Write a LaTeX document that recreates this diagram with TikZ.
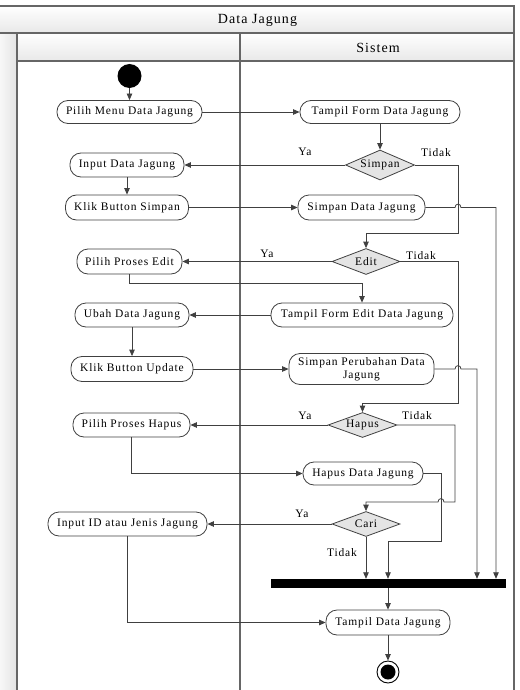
\documentclass[tikz,border=0pt]{standalone}
\usepackage{fontspec}
\setmainfont{Liberation Serif}[LetterSpace=7.5]
\usetikzlibrary{arrows.meta,shapes.geometric}
\definecolor{ln}{HTML}{404040}
\definecolor{fr}{HTML}{666666}
\definecolor{dfill}{HTML}{E4E4E4}
\begin{document}
\begin{tikzpicture}[x=1pt,y=-1pt,
  >={Triangle[length=6.5pt,width=5.5pt]},
  txt/.style={font=\fontsize{11.5}{12.5}\selectfont, text=black},
  act/.style={txt, draw=ln, line width=0.8pt, fill=white, rounded corners=11pt, inner sep=1pt, align=center},
  dec/.style={txt, diamond, aspect=2.6, draw=ln, line width=0.8pt, fill=dfill, inner sep=0pt, minimum width=69pt},
  conn/.style={draw=ln, line width=0.8pt, ->},
  frm/.style={draw=fr, line width=1.1pt},
  lbl/.style={txt}
]
\useasboundingbox (0,0) rectangle (519,690);
% swimlane frame
\shade[top color=white, bottom color=black!9] (0,6) rectangle (514,33);
\shade[left color=black!3, right color=black!11] (0,33) rectangle (17,690);
\shade[top color=white, bottom color=black!9] (17,33) rectangle (514,61);
\draw[frm] (0,6) -- (514,6) -- (514,690);
\draw[frm] (0,33) -- (514,33);
\draw[frm] (17,61) -- (514,61);
\draw[frm] (17,33) -- (17,690);
\draw[frm] (240,33) -- (240,690);
\node[font=\fontsize{14}{15}\selectfont] (title) at (257.5,20) {Data Jagung};
\node[font=\fontsize{14}{15}\selectfont] (lane) at (378,47.5) {Sistem};

% nodes
\node[circle, fill=black, minimum size=24pt, inner sep=0pt] (start) at (129.5,76) {};
\node[act, minimum width=145pt, minimum height=23pt] (pm) at (129.5,112) {Pilih Menu Data Jagung};
\node[act, minimum width=160pt, minimum height=23pt] (tf) at (380,112) {Tampil Form Data Jagung};
\node[dec, minimum height=30pt] (simpan) at (380,165) {Simpan};
\node[act, minimum width=114pt, minimum height=24pt] (idj) at (127,165) {Input Data Jagung};
\node[act, minimum width=123pt, minimum height=25pt] (kbs) at (127,207.5) {Klik Button Simpan};
\node[act, minimum width=127pt, minimum height=25pt] (sdj) at (361.5,207.5) {Simpan Data Jagung};
\node[dec, minimum height=26pt, minimum width=68pt] (edit) at (366,261.5) {Edit};
\node[act, minimum width=105pt, minimum height=25pt] (ppe) at (129.5,261.5) {Pilih Proses Edit};
\node[act, minimum width=182pt, minimum height=24pt] (tfe) at (362,315) {Tampil Form Edit Data Jagung};
\node[act, minimum width=114pt, minimum height=24pt] (udj) at (132,315) {Ubah Data Jagung};
\node[act, minimum width=122pt, minimum height=25pt] (kbu) at (132,369) {Klik Button Update};
\node[act, minimum width=145pt, minimum height=31pt] (spdj) at (361.5,369) {Simpan Perubahan Data\\Jagung};
\node[dec, minimum height=25pt] (hapus) at (362.5,425) {Hapus};
\node[act, minimum width=117pt, minimum height=24pt] (pph) at (131.5,425) {Pilih Proses Hapus};
\node[act, minimum width=120pt, minimum height=23pt] (hdj) at (363,473.5) {Hapus Data Jagung};
\node[dec, minimum height=25pt, minimum width=68pt] (cari) at (366,524) {Cari};
\node[act, minimum width=159pt, minimum height=24pt] (iid) at (127.5,524) {Input ID atau Jenis Jagung};
\node[fill=black, minimum width=235pt, minimum height=9pt, inner sep=0pt] (bar) at (388.5,583.5) {};
\node[act, minimum width=124pt, minimum height=25pt] (tdj) at (388,622.5) {Tampil Data Jagung};
\node[circle, draw=black, line width=0.9pt, fill=white, minimum size=22pt, inner sep=0pt] (end) at (388,672) {};
\fill[black] (end.center) circle[radius=7.5pt];

% labels
\node[lbl] (ya1) at (305,152) {Ya};
\node[lbl] (td1) at (436,153) {Tidak};
\node[lbl] (ya2) at (267,254) {Ya};
\node[lbl] (td2) at (421,256) {Tidak};
\node[lbl] (ya3) at (305,416) {Ya};
\node[lbl] (td3) at (417,416) {Tidak};
\node[lbl] (ya4) at (302,514) {Ya};
\node[lbl] (td4) at (342,553) {Tidak};

% bend coordinates
\coordinate (c1) at (458,233);
\coordinate (c2) at (458,403);
\coordinate (c3) at (455,502);
\coordinate (c4) at (496,0);
\coordinate (c5) at (477,0);
\coordinate (c6) at (441,541);
\coordinate (c7) at (388,541);

% connectors
\draw[conn] (start) -- (pm.north);
\draw[conn] (pm.east) -- (tf.west);
\draw[conn] (tf.south) -- (simpan.north);
\draw[conn] (simpan.west) -- (idj.east);
\draw[conn] (idj.south) -- (kbs.north);
\draw[conn] (kbs.east) -- (sdj.west);
\draw[conn] (simpan.east) -| (c1) -| (edit.north);
\draw[conn] (sdj.east) -- (455,207.5) .. controls +(0,-4.5) and +(0,-4.5) .. (461,207.5) -| (c4 |- bar.north);
\draw[conn] (edit.west) -- (ppe.east);
\draw[conn] (ppe.south) |- (tfe.north |- 0,283) -- (tfe.north);
\draw[conn] (edit.east) -| (c2) -| (hapus.north);
\draw[conn] (tfe.west) -- (udj.east);
\draw[conn] (udj.south) -- (kbu.north);
\draw[conn] (kbu.east) -- (spdj.west);
\draw[conn] (spdj.east) -- (455,369) .. controls +(0,-4.5) and +(0,-4.5) .. (461,369) -| (c5 |- bar.north);
\draw[conn] (hapus.west) -- (pph.east);
\draw[conn] (pph.south) |- (hdj.west);
\draw[conn] (hapus.east) -| (c3) -- (444,502) .. controls +(0,-4.5) and +(0,-4.5) .. (438,502) -| (cari.north);
\draw[conn] (hdj.east) -| (c6) -- (c7) -- (c7 |- bar.north);
\draw[conn] (cari.west) -- (iid.east);
\draw[conn] (cari.south) -- (cari.south |- bar.north);
\draw[conn] (iid.south) |- (tdj.west);
\draw[conn] (bar.south -| tdj.north) -- (tdj.north);
\draw[conn] (tdj.south) -- (end.north);
\end{tikzpicture}
\end{document}
